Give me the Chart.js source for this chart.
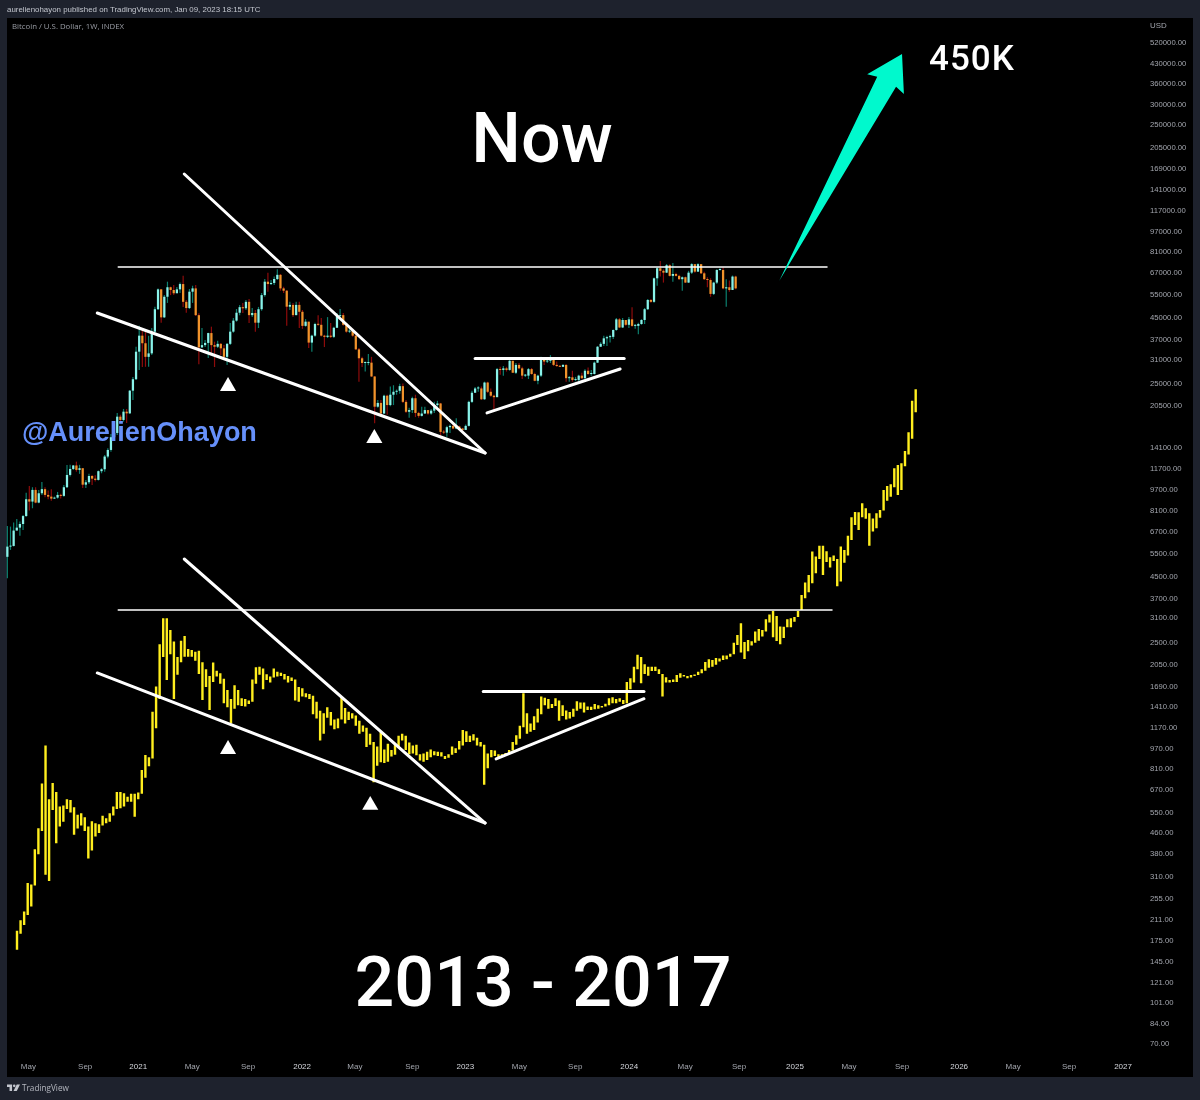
<!DOCTYPE html>
<html>
<head>
<meta charset="utf-8">
<title>Bitcoin / U.S. Dollar</title>
<script src="https://cdn.jsdelivr.net/npm/chart.js@4/dist/chart.umd.js"></script>
<style>
  html, body { margin: 0; padding: 0; background: #1e222d; width: 1200px; height: 1100px; overflow: hidden; }
  #panel { position: absolute; left: 7px; top: 18px; width: 1186px; height: 1059px; background: #000; }
  #chartCanvas { position: absolute; left: 0; top: 0; }
  .t { position: absolute; white-space: nowrap; line-height: 1; font-family: "Liberation Sans", sans-serif; }
  .small { font-family: "Open Sans", sans-serif; }
  .big { color: #fff; font-family: Roboto, "Liberation Sans", sans-serif; font-weight: 500; transform: translateX(-50%); }
</style>
</head>
<body>
<div id="panel"></div>
<canvas id="chartCanvas" width="1200" height="1100"></canvas>

<div class="t" style="left:7px;top:6px;font-size:7.9px;color:#c3c6ce">aurelienohayon published on TradingView.com, Jan 09, 2023 18:15 UTC</div>
<div class="t small" style="left:12px;top:23px;font-size:7.8px;color:#9a9da5">Bitcoin / U.S. Dollar, 1W, INDEX</div>
<div class="t" style="left:1150px;top:22px;font-size:7.9px;color:#a3a6ae">USD</div>
<div class="t big" style="left:542px;top:103px;font-size:70px">Now</div>
<div class="t big" style="left:543px;top:947px;font-size:70px">2013 - 2017</div>
<div class="t" style="left:929px;top:41px;font-size:35px;font-weight:500;letter-spacing:1px;font-family:Roboto;color:#fff">450K</div>
<div class="t" style="left:22px;top:419px;font-size:27px;font-weight:bold;color:#6690fa">@AurelienOhayon</div>
<svg class="t" style="left:7px;top:1084px" width="13" height="8" viewBox="0 0 36 20">
  <path fill="#c3c6ce" d="M0 0h14v18H7V7H0z"/><circle cx="20" cy="4" r="3.6" fill="#c3c6ce"/><path fill="#c3c6ce" d="M27 0h9l-9 18h-9z"/>
</svg>
<div class="t small" style="left:22px;top:1084px;font-size:8.2px;color:#b4b7bf">TradingView</div>

<script>
// --- axis labels ---
const priceTicks = [520000, 430000, 360000, 300000, 250000, 205000, 169000, 141000, 117000, 97000, 81000, 67000, 55000, 45000, 37000, 31000, 25000, 20500, 14100, 11700, 9700, 8100, 6700, 5500, 4500, 3700, 3100, 2500, 2050, 1690, 1410, 1170, 970, 810, 670, 550, 460, 380, 310, 255, 211, 175, 145, 121, 101, 84, 70];
const timeLabels = ["May", "Sep", "2021", "May", "Sep", "2022", "May", "Sep", "2023", "May", "Sep", "2024", "May", "Sep", "2025", "May", "Sep", "2026", "May", "Sep", "2027"];
const timeWeeks = [-35, -16.9, 0, 17.2, 35, 52.2, 69, 87.3, 104.2, 121.4, 139.2, 156.4, 174.2, 191.4, 209.2, 226.4, 243.3, 261.5, 278.7, 296.5, 313.7];

// --- top series: weekly candles, weeks counted from Jan 2021 ---
const firstWeek = -41.7;
const firstOpen = 5360;
const closes = [
  5870, 5905, 6772, 6950, 7180, 7705, 8950, 8765, 9725, 8685,
  9440, 9790, 9300, 9160, 9000, 9080, 9300, 9220, 9960, 11110,
  11720, 12090, 11620, 11800, 10190, 10410, 11010, 10750, 10630, 11490,
  11690, 13090, 13880, 15550, 16150, 18670, 18130, 19520, 19230, 23530,
  26060, 33300, 38400, 35900, 31800, 32800, 39800, 48600, 58000, 45200,
  54300, 59100, 57680, 56000, 58000, 60800, 51900, 49100, 56800, 58500,
  46100, 34600, 35300, 36000, 39300, 35300, 34800, 35700, 34300, 31800,
  35700, 39800, 43900, 47100, 49500, 49000, 51900, 46100, 47000, 43100,
  48600, 55100, 62100, 60800, 61400, 63600, 66000, 58500, 57300, 49700,
  50500, 46100, 50500, 47500, 41900, 43500, 36100, 38400, 42600, 42300,
  38400, 38000, 38400, 38000, 41200, 45700, 46100, 42300, 39800, 40100,
  38400, 34000, 31400, 30100, 30100, 30200, 26700, 20400, 21100, 19200,
  22500, 20700, 22700, 23300, 23500, 24500, 21300, 19500, 19800, 22000,
  19300, 18800, 19200, 19800, 19200, 19700, 20700, 21000, 16300, 16200,
  17000, 17200, 16800, 17100, 16800, 16590, 17200, 21300, 23100, 24000,
  24000, 21800, 25300, 23300, 22500, 22200, 28500, 28300, 28700, 28300,
  30700, 27600, 29600, 28700, 26900, 26900, 28500, 27300, 25700, 26900,
  30930, 30500, 30700, 30930, 29600, 29300, 29100, 29600, 26300, 26500,
  25890, 25890, 26900, 26300, 28100, 27300, 27300, 30200, 34800, 35700,
  37500, 37900, 38000, 40400, 44400, 41300, 44160, 42300, 44400, 41900,
  41900, 42600, 44160, 48600, 52770, 51900, 64000, 70000, 68400, 67300,
  71900, 65400, 66500, 65400, 63500, 64600, 61600, 67300, 72600, 67900,
  72600, 66900, 63500, 63050, 55700, 61600, 68900, 68900, 58500, 59100,
  57680, 65000, 58500
];
const highs = [
  7060, 7015, 7270, 7500, 7340, 7780, 9490, 10060, 9960, 9960,
  9725, 10440, 9960, 9665, 9790, 9160, 9550, 9390, 10150, 12130,
  12160, 12130, 12510, 12160, 11800, 10630, 11220, 11110, 11080, 11550,
  11800, 13260, 14090, 16000, 16590, 19300, 18970, 20000, 20000, 23680,
  26600, 34800, 41900, 40600, 39800, 38400, 41100, 49700, 58500, 58200,
  55100, 62100, 59400, 60300, 59200, 61600, 65400, 52770, 58200, 59900,
  60300, 46900, 41100, 36960, 39400, 41600, 36400, 36700, 36000, 35300,
  36000, 43000, 44900, 48700, 50500, 51400, 52770, 53200, 49100, 48270,
  49600, 56200, 63600, 67300, 63050, 65000, 69300, 66500, 59400, 57680,
  51900, 51400, 51900, 51900, 48270, 44500, 43500, 38700, 43100, 46100,
  44900, 38700, 45300, 43000, 41600, 47000, 48700, 47000, 43000, 41100,
  40800, 38700, 34400, 31800, 30500, 32600, 31800, 26800, 21670, 21670,
  22700, 22700, 24400, 24700, 23800, 25000, 25100, 21670, 20200, 22300,
  22700, 19500, 20400, 20400, 19800, 20000, 21300, 21500, 21100, 16590,
  17200, 17400, 17400, 18400, 17200, 16900, 17400, 21500, 23500, 24300,
  24500, 24400, 25500, 25500, 24000, 22700, 28800, 29100, 29300, 29100,
  30930, 30700, 30100, 30100, 29100, 27300, 28800, 28800, 27600, 27100,
  31800, 31200, 31500, 32300, 30700, 30500, 29600, 29800, 29800, 26800,
  28100, 26600, 27100, 27600, 28500, 28900, 28300, 30500, 35000, 36200,
  38400, 38400, 38700, 40600, 44900, 44900, 44900, 44160, 45300, 49500,
  42600, 43100, 44500, 49100, 53200, 53200, 64400, 70600, 74700, 69300,
  72600, 72600, 73300, 67300, 66000, 65000, 65000, 68400, 73200, 70000,
  73200, 71900, 67900, 64600, 64000, 62100, 69300, 70000, 70600, 63500,
  62700, 65600, 65400
];
const lows = [
  4430, 5700, 5870, 6770, 6470, 6810, 7660, 8090, 8260, 8640,
  8640, 9300, 9110, 8950, 8840, 8980, 9000, 9000, 9160, 9900,
  10950, 11620, 11440, 11220, 9890, 9900, 10250, 10150, 10470, 10570,
  11280, 11440, 12890, 13670, 15450, 15850, 17650, 17860, 17650, 19120,
  21670, 25890, 28300, 29050, 29100, 29100, 32300, 38900, 48270, 43100,
  44900, 51400, 55100, 55100, 56200, 56200, 49600, 47100, 48700, 51400,
  45700, 29800, 34400, 34700, 31500, 32900, 29050, 34400, 32300, 31200,
  29600, 35300, 39400, 43500, 46100, 47000, 48270, 43000, 45300, 39800,
  41100, 47900, 54300, 56800, 60300, 60300, 63050, 57300, 56200, 41900,
  48270, 45300, 46100, 41100, 40800, 41600, 34400, 33300, 38000, 41900,
  38100, 34700, 37600, 37600, 37600, 41100, 45300, 41900, 39400, 39300,
  38000, 33810, 25500, 29050, 27900, 29500, 26600, 17600, 20200, 18800,
  19100, 19000, 20500, 20700, 22700, 22900, 21100, 19300, 18500, 19300,
  18600, 18500, 18700, 19100, 19000, 19000, 19300, 20400, 15800, 16000,
  15600, 16150, 16700, 16700, 16590, 16450, 16590, 17100, 21100, 23050,
  23300, 21670, 21670, 23050, 22300, 19820, 22300, 27100, 26900, 27900,
  28100, 27600, 27300, 28500, 26100, 26600, 26100, 27100, 25600, 24900,
  26600, 29600, 30100, 30100, 29300, 29100, 29050, 29050, 25500, 25500,
  25500, 25600, 25600, 26100, 26100, 27100, 26900, 27200, 30100, 34700,
  35000, 35000, 36100, 37300, 40100, 41100, 41100, 41900, 41100, 41600,
  40800, 38900, 42300, 42600, 48270, 51500, 51500, 59900, 65000, 61600,
  67100, 65000, 62100, 65000, 63050, 57300, 61400, 61400, 66500, 67300,
  67900, 66500, 63050, 59100, 54300, 55100, 60800, 68400, 58000, 49700,
  56800, 58000, 58000
];

// --- bottom series: 2013-2017 weekly bars, high and low ---
const oldHighs = [
  192, 211, 228, 294, 290, 397, 478, 713, 1000, 619,
  715, 661, 580, 585, 619, 615, 577, 539, 547, 527,
  486, 509, 500, 496, 535, 523, 547, 580, 661, 661,
  653, 633, 650, 650, 657, 804, 917, 900, 1350, 1690,
  2460, 3100, 3100, 2795, 2520, 2195, 2540, 2650, 2360, 2339,
  2300, 2320, 2095, 1970, 1855, 2090, 1945, 1900, 1810, 1638,
  1510, 1710, 1638, 1520, 1510, 1490, 1800, 2005, 2015, 1985,
  1885, 1845, 1985, 1925, 1910, 1890, 1855, 1830, 1800, 1680,
  1665, 1590, 1580, 1555, 1475, 1360, 1330, 1405, 1345, 1260,
  1270, 1530, 1395, 1350, 1330, 1305, 1245, 1195, 1170, 1110,
  1030, 990, 1130, 965, 1015, 960, 1010, 1090, 1110, 1090,
  1025, 1000, 1005, 925, 930, 945, 965, 950, 945, 940,
  910, 925, 990, 975, 1040, 1148, 1135, 1090, 1105, 1070,
  1030, 1005, 930, 960, 955, 925, 925, 935, 960, 1030,
  1095, 1190, 1590, 1330, 1215, 1295, 1385, 1545, 1530, 1510,
  1445, 1520, 1490, 1430, 1365, 1345, 1385, 1480, 1465, 1465,
  1415, 1410, 1445, 1430, 1420, 1450, 1520, 1535, 1510, 1520,
  1499, 1760, 1820, 2015, 2240, 2195, 2060, 2015, 2015, 2015,
  1970, 1890, 1835, 1791, 1800, 1870, 1900, 1870, 1855, 1870,
  1880, 1925, 1970, 2100, 2155, 2140, 2175, 2170, 2225, 2225,
  2260, 2495, 2670, 2970, 2510, 2557, 2530, 2755, 2820, 2795,
  3075, 3210, 3310, 3165, 2880, 2875, 3075, 3100, 3140, 3310,
  3815, 4260, 4560, 5615, 5370, 5920, 5920, 5630, 5340, 5420,
  5260, 5870, 5700, 6470, 7620, 7995, 7975, 8640, 8260, 7900,
  7535, 7900, 8139, 9725, 10060, 10230, 11800, 12130, 12330, 13760,
  16250, 21500, 23850
];
const oldLows = [
  162, 187, 202, 221, 238, 287, 379, 467, 316, 299,
  563, 418, 486, 507, 567, 550, 451, 477, 490, 467,
  365, 392, 444, 458, 490, 500, 507, 536, 567, 572,
  580, 605, 606, 530, 619, 650, 750, 830, 890, 1165,
  1510, 2195, 1791, 2250, 1510, 1875, 2095, 2200, 2200, 2200,
  2125, 1890, 1499, 1680, 1371, 1760, 1845, 1730, 1455, 1405,
  1215, 1385, 1430, 1420, 1415, 1445, 1475, 1730, 1875, 1650,
  1791, 1750, 1830, 1845, 1855, 1800, 1750, 1775, 1490, 1475,
  1545, 1535, 1510, 1320, 1270, 1045, 1110, 1280, 1195, 1155,
  1165, 1260, 1215, 1254, 1270, 1190, 1110, 1130, 985, 1005,
  720, 835, 860, 855, 865, 905, 920, 990, 1045, 960,
  925, 930, 915, 875, 865, 879, 900, 915, 910, 905,
  885, 895, 920, 935, 965, 1000, 1030, 1030, 1045, 1000,
  990, 705, 815, 900, 910, 900, 905, 915, 930, 955,
  1005, 1060, 1175, 1110, 1130, 1148, 1225, 1320, 1430, 1385,
  1395, 1420, 1245, 1300, 1260, 1270, 1290, 1360, 1385, 1340,
  1371, 1371, 1380, 1385, 1400, 1415, 1430, 1455, 1455, 1475,
  1445, 1455, 1650, 1750, 1970, 1740, 1890, 1860, 1940, 1940,
  1890, 1545, 1750, 1750, 1760, 1760, 1825, 1845, 1820, 1830,
  1855, 1870, 1900, 1945, 1995, 2015, 2050, 2110, 2140, 2155,
  2200, 2250, 2445, 2285, 2160, 2310, 2435, 2495, 2540, 2635,
  2755, 2985, 2620, 2535, 2460, 2600, 2860, 2860, 3010, 3135,
  3339, 3705, 3910, 4240, 4630, 5260, 4560, 5115, 4870, 5170,
  4120, 4300, 5085, 5420, 6232, 7115, 6812, 7620, 7515, 5920,
  6710, 6915, 7590, 8090, 8840, 9160, 9960, 9300, 9725, 12000,
  13330, 15350, 19420
];

// --- hand drawn levels, as [week, price] ends ---
const topResistance = [[-6.37, 70800], [219.4, 70800]];
const topFalling = [[14.65, 162000], [110.5, 13510]];
const topSupport = [[-13.06, 47000], [110.5, 13510]];
const topFlat = [[107.3, 31350], [154.8, 31350]];
const topRising = [[111.1, 19300], [153.5, 28550]];
const oldResistance = [[-6.37, 3339], [221, 3339]];
const oldFalling = [[14.65, 5257], [110.5, 501]];
const oldSupport = [[-13.06, 1906], [110.5, 501]];
const oldFlat = [[109.9, 1616], [161.1, 1616]];
const oldRising = [[114, 886], [161.1, 1515]];
const markers = [[28.6, 24480], [75.2, 15400], [28.6, 965], [73.9, 587]];
const arrowShape = [[204.2, 62650], [235.4, 385000], [232.2, 393500], [243.3, 471700], [243.9, 330000], [241.4, 352400], [204.2, 62650]];

// --- build datasets ---
const opens = [firstOpen, ...closes.slice(0, -1)];
const isUp = closes.map((c, i) => c >= opens[i]);
const toXY = pairs => pairs.map(p => ({ x: p[0], y: p[1] }));

function level(pairs, width) {
  return {
    type: "line",
    data: toXY(pairs),
    borderColor: "#ffffff",
    borderWidth: width,
    borderCapStyle: "round",
    pointRadius: 0,
    order: 1
  };
}

const datasets = [
  {
    data: oldHighs.map((h, i) => ({ x: i, y: [oldLows[i], h] })),
    xAxisID: "xOld",
    backgroundColor: "#ffee1e",
    maxBarThickness: 2.4,
    minBarLength: 1,
    grouped: false,
    order: 5
  },
  {
    data: highs.map((h, i) => ({ x: firstWeek + i, y: [lows[i], h] })),
    backgroundColor: isUp.map(u => (u ? "#0c7f6e" : "#8e0b0b")),
    maxBarThickness: 1.2,
    grouped: false,
    clip: false,
    order: 4
  },
  {
    data: closes.map((c, i) => ({ x: firstWeek + i, y: [opens[i], c] })),
    backgroundColor: isUp.map(u => (u ? "#8af3ea" : "#f0932b")),
    maxBarThickness: 2.7,
    minBarLength: 1,
    grouped: false,
    clip: false,
    order: 3
  },
  level(topResistance, 1.5),
  level(topFalling, 3),
  level(topSupport, 3),
  level(topFlat, 3),
  level(topRising, 3),
  level(oldResistance, 1.5),
  level(oldFalling, 3),
  level(oldSupport, 3),
  level(oldFlat, 3),
  level(oldRising, 3),
  {
    type: "scatter",
    data: toXY(markers),
    pointStyle: "triangle",
    pointRadius: 9.3,
    backgroundColor: "#ffffff",
    borderWidth: 0,
    order: 1
  },
  {
    type: "scatter",
    data: toXY(arrowShape),
    showLine: true,
    fill: "shape",
    backgroundColor: "#00f9cd",
    borderColor: "#00f9cd",
    borderWidth: 0,
    pointRadius: 0,
    order: 0
  }
];

new Chart(document.getElementById("chartCanvas"), {
  type: "bar",
  data: { datasets },
  options: {
    responsive: false,
    animation: false,
    layout: { padding: { left: 7, right: 7, top: 18, bottom: 23 } },
    plugins: { legend: { display: false }, tooltip: { enabled: false } },
    scales: {
      x: {
        type: "linear",
        offset: false,
        min: -41.08,
        max: 320.7,
        grid: { display: false, drawTicks: false },
        border: { display: false },
        afterBuildTicks: s => { s.ticks = timeWeeks.map(v => ({ value: v })); },
        afterFit: s => { s.height = 31; s.paddingLeft = 0; s.paddingRight = 0; },
        ticks: {
          autoSkip: false,
          maxRotation: 0,
          padding: 16,
          font: { family: "Liberation Sans", size: 8 },
          color: c => (/^\d/.test(timeLabels[c.index]) ? "#d5d7dd" : "#a3a6ae"),
          callback: (v, i) => timeLabels[i]
        }
      },
      xOld: {
        type: "linear",
        display: false,
        offset: false,
        min: -2.16,
        max: 316.3
      },
      y: {
        type: "logarithmic",
        position: "right",
        min: 68.8,
        max: 649700,
        grid: { display: false, drawTicks: false },
        border: { display: false },
        afterBuildTicks: s => { s.ticks = priceTicks.map(v => ({ value: v })); },
        afterFit: s => { s.width = 48; s.paddingTop = 0; s.paddingBottom = 0; },
        ticks: {
          autoSkip: false,
          padding: 5,
          font: { family: "Liberation Sans", size: 7.7 },
          color: "#a3a6ae",
          callback: v => v.toFixed(2)
        }
      }
    }
  }
});
</script>
</body>
</html>
